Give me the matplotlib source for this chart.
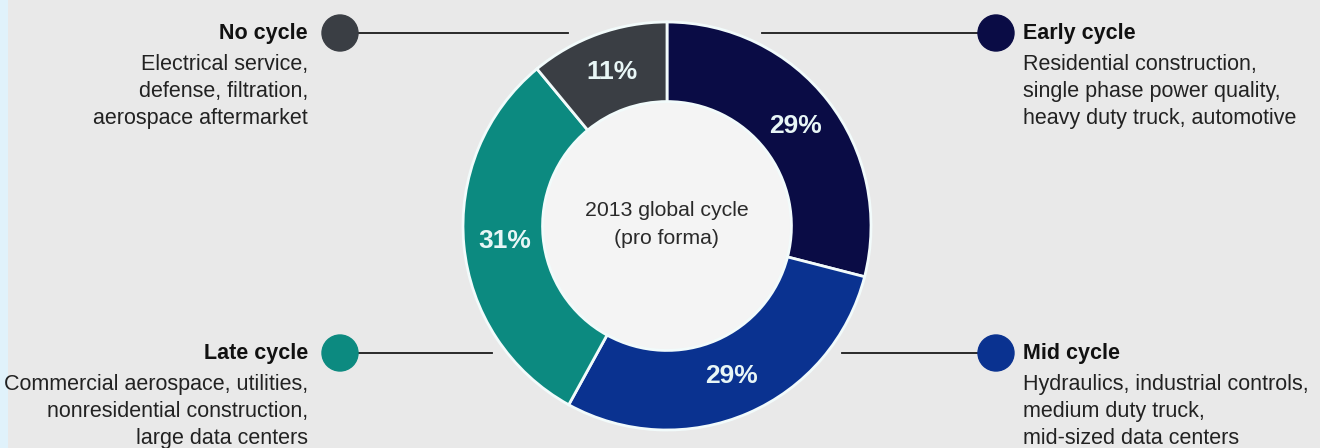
import matplotlib.pyplot as plt
from matplotlib.patches import Circle, Rectangle

plt.rcParams['font.family'] = ['Liberation Sans', 'DejaVu Sans']

# cycle shares, clockwise from 12 o'clock
segments = ['Early cycle', 'Mid cycle', 'Late cycle', 'No cycle']
shares = [29, 29, 31, 11]
colors = ['#0a0c45', '#0a3290', '#0c8a80', '#3a3e44']

descriptions = {
    'No cycle': 'Electrical service,\ndefense, filtration,\naerospace aftermarket',
    'Early cycle': 'Residential construction,\nsingle phase power quality,\nheavy duty truck, automotive',
    'Late cycle': 'Commercial aerospace, utilities,\nnonresidential construction,\nlarge data centers',
    'Mid cycle': 'Hydraulics, industrial controls,\nmedium duty truck,\nmid-sized data centers',
}

W, H = 1320, 448
fig = plt.figure(figsize=(W / 100, H / 100), dpi=100)
fig.patch.set_facecolor('#e9e9e9')

# overlay axes in pixel units for the callouts
bg = fig.add_axes([0, 0, 1, 1])
bg.set_xlim(0, W)
bg.set_ylim(H, 0)
bg.axis('off')
bg.add_patch(Rectangle((0, 0), 8, H, color='#e0f2fb', lw=0))

cx, cy, r = 667, 226, 204
ax = fig.add_axes([(cx - r) / W, (H - cy - r) / H, 2 * r / W, 2 * r / H])
wedges, _, pcts = ax.pie(shares, colors=colors, startangle=90, counterclock=False,
                         radius=1, autopct='%d%%', pctdistance=0.80,
                         wedgeprops=dict(width=0.39, edgecolor='#f2fbfb', linewidth=2))
for t in pcts:
    t.set_color('#e8f6f6')
    t.set_fontsize(19)
    t.set_fontweight('bold')
ax.add_patch(Circle((0, 0), 0.61, color='#f4f4f4', zorder=0))
ax.set_xlim(-1, 1)
ax.set_ylim(-1, 1)
ax.set_aspect('equal')
ax.axis('off')
ax.text(0, 0.075, '2013 global cycle', ha='center', va='center', fontsize=15.3, color='#2a2a2a')
ax.text(0, -0.06, '(pro forma)', ha='center', va='center', fontsize=15.3, color='#2a2a2a')

# callouts: (dot x, dot y, line end x, side)
callouts = {
    'No cycle': (340, 33, 568, 'left'),
    'Early cycle': (996, 33, 762, 'right'),
    'Late cycle': (340, 353, 492, 'left'),
    'Mid cycle': (996, 353, 842, 'right'),
}
seg_colors = dict(zip(segments, colors))
for name, (dx, dy, lx, side) in callouts.items():
    bg.plot([dx, lx], [dy, dy], color='#1a1a1a', lw=1.3, zorder=1)
    bg.add_patch(Circle((dx, dy), 18, color=seg_colors[name], zorder=2))
    if side == 'left':
        tx, ha = dx - 32, 'right'
    else:
        tx, ha = dx + 27, 'left'
    bg.text(tx, dy, name, ha=ha, va='center', fontsize=15.5, fontweight='bold', color='#111111')
    bg.text(tx, dy + 21, descriptions[name], ha=ha, va='top', fontsize=15.5,
            color='#222222', linespacing=1.36)

plt.savefig('out.png', dpi=100, facecolor=fig.get_facecolor())
plt.close()
